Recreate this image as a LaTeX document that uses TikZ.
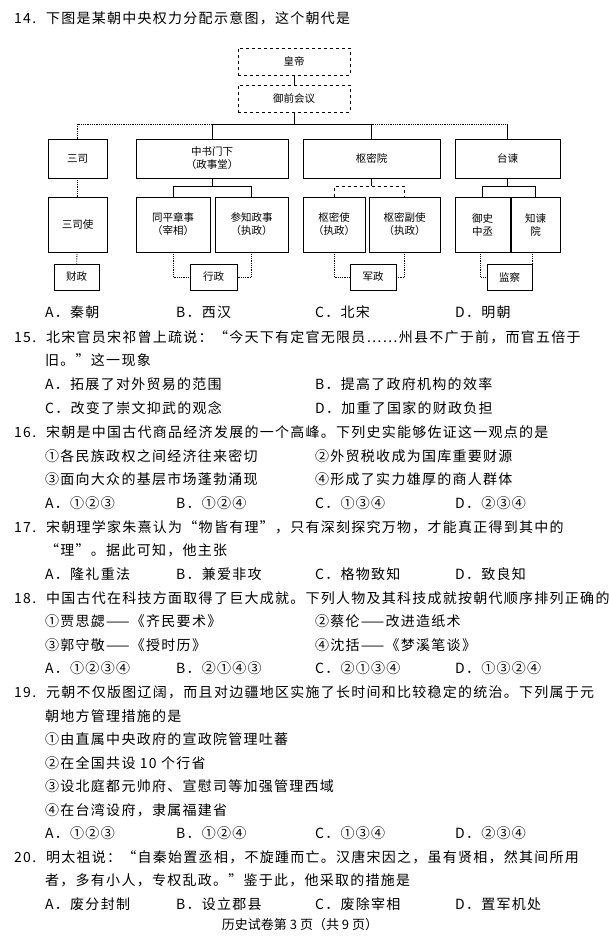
\documentclass[tikz,border=0pt]{standalone}
\usepackage{fontspec}
\setmainfont{Noto Sans CJK SC}
\newfontfamily\bodyf[LetterSpace=9]{Noto Sans CJK SC}
\begin{document}
\begin{tikzpicture}[x=1pt,y=-1pt,
  bx/.style={draw,thick,minimum height=#1,inner sep=0pt,font=\fontsize{10.5}{13}\selectfont,align=center},
  bx/.default=39pt,
  dl/.style={thick,densely dotted},
  sl/.style={thick},
  tx/.style={anchor=west,inner sep=0pt,font=\bodyf\fontsize{14}{15}\selectfont}]
\useasboundingbox (0,0) rectangle (609,937);
% boxes
\node[bx=27pt,dashed,minimum width=112pt] (hd) at (294,61.5) {皇帝};
\node[bx=27pt,dashed,minimum width=112pt] (yq) at (294,98.5) {御前会议};
\node[bx,minimum width=59pt] (ss) at (77.5,158.5) {三司};
\node[bx,minimum width=152pt] (zs) at (212,158.5) {中书门下\\（政事堂）};
\node[bx,minimum width=137pt] (sm) at (371.5,158.5) {枢密院};
\node[bx,minimum width=105pt] (tj) at (507.5,158.5) {台谏};
\node[bx=55pt,minimum width=59pt] (ssy) at (77.5,224.5) {三司使};
\node[bx=55pt,minimum width=74pt] (tp) at (173,224.5) {同平章事\\（宰相）};
\node[bx=55pt,minimum width=73pt] (cz) at (251.5,224.5) {参知政事\\（执政）};
\node[bx=55pt,minimum width=62pt] (smsh) at (334,224.5) {枢密使\\（执政）};
\node[bx=55pt,minimum width=71pt] (smf) at (404.5,224.5) {枢密副使\\（执政）};
\node[bx=55pt,minimum width=55pt] (ys) at (482.5,224.5) {御史\\中丞};
\node[bx=55pt,minimum width=49pt] (zj) at (535.5,224.5) {知谏\\院};
\node[bx=26pt,minimum width=45pt] (cz2) at (76.5,277) {财政};
\node[bx=26pt,minimum width=47pt] (xz) at (213.5,277) {行政};
\node[bx=26pt,minimum width=46pt] (jz) at (373,277) {军政};
\node[bx=26pt,minimum width=45pt] (jc) at (509.5,277) {监察};
% connectors
\coordinate (h) at (294,124);
\draw[sl] (hd) -- (yq);
\draw[sl] (yq) -- (h);
\draw[sl] (zs.north|-h) -- (sm.north|-h);
\draw[dl] (h-|ss.north) -- (zs.north|-h);
\draw[dl] (sm.north|-h) -- (tj.north|-h);
\draw[dl] (h-|ss.north) -- (ss.north);
\draw[sl] (zs.north|-h) -- (zs.north);
\draw[sl] (sm.north|-h) -- (sm.north);
\draw[sl] (tj.north|-h) -- (tj.north);
\draw[dl] (ss) -- (ssy);
\draw[dl] (ssy) -- (cz2);
\draw[sl] (zs.south) -- ++(0,8) coordinate (a);
\draw[sl] (tp.north) |- (a) -| (cz.north);
\draw[sl] (sm.south) -- ++(0,8) coordinate (b);
\draw[sl,dashed] (smsh.north) |- (b) -| (smf.north);
\draw[sl] (tj.south) -- ++(0,8) coordinate (c);
\draw[sl] (ys.north) |- (c) -| (zj.north);
\draw[dl] (tp.south) |- (xz.west);
\draw[dl] (cz.south) |- (xz.east);
\draw[dl] (smsh.south) |- (jz.west);
\draw[dl] (smf.south) |- (jz.east);
\draw[dl] ([xshift=-2pt]ys.south) |- (jc.west);
\draw[dl] ([xshift=-3pt]zj.south) |- (jc.east);
% text
\node[tx] at (14,18) {14.\hspace{10pt}下图是某朝中央权力分配示意图，这个朝代是};
\node[tx] at (45,312) {A．秦朝}; \node[tx] at (176,312) {B．西汉}; \node[tx] at (315,312) {C．北宋}; \node[tx] at (455,312) {D．明朝};
\node[tx] at (14,337) {15.\hspace{10pt}北宋官员宋祁曾上疏说：“今天下有定官无限员……州县不广于前，而官五倍于};
\node[tx] at (45,360) {旧。”这一现象};
\node[tx] at (45,384) {A．拓展了对外贸易的范围}; \node[tx] at (315,384) {B．提高了政府机构的效率};
\node[tx] at (45,408) {C．改变了崇文抑武的观念}; \node[tx] at (315,408) {D．加重了国家的财政负担};
\node[tx] at (14,432) {16.\hspace{10pt}宋朝是中国古代商品经济发展的一个高峰。下列史实能够佐证这一观点的是};
\node[tx] at (45,456) {①各民族政权之间经济往来密切}; \node[tx] at (315,456) {②外贸税收成为国库重要财源};
\node[tx] at (45,479) {③面向大众的基层市场蓬勃涌现}; \node[tx] at (315,479) {④形成了实力雄厚的商人群体};
\node[tx] at (45,503) {A．①②③}; \node[tx] at (176,503) {B．①②④}; \node[tx] at (315,503) {C．①③④}; \node[tx] at (455,503) {D．②③④};
\node[tx] at (14,527) {17.\hspace{10pt}宋朝理学家朱熹认为“物皆有理”，只有深刻探究万物，才能真正得到其中的};
\node[tx] at (45,550) {“理”。据此可知，他主张};
\node[tx] at (45,574) {A．隆礼重法}; \node[tx] at (176,574) {B．兼爱非攻}; \node[tx] at (315,574) {C．格物致知}; \node[tx] at (455,574) {D．致良知};
\node[tx] at (14,598) {18.\hspace{10pt}中国古代在科技方面取得了巨大成就。下列人物及其科技成就按朝代顺序排列正确的是};
\node[tx] at (45,621) {①贾思勰——《齐民要术》}; \node[tx] at (315,621) {②蔡伦——改进造纸术};
\node[tx] at (45,645) {③郭守敬——《授时历》}; \node[tx] at (315,645) {④沈括——《梦溪笔谈》};
\node[tx] at (45,668) {A．①②③④}; \node[tx] at (176,668) {B．②①④③}; \node[tx] at (315,668) {C．②①③④}; \node[tx] at (455,668) {D．①③②④};
\node[tx] at (14,692) {19.\hspace{10pt}元朝不仅版图辽阔，而且对边疆地区实施了长时间和比较稳定的统治。下列属于元};
\node[tx] at (45,716) {朝地方管理措施的是};
\node[tx] at (45,739) {①由直属中央政府的宣政院管理吐蕃};
\node[tx] at (45,763) {②在全国共设 10 个行省};
\node[tx] at (45,786) {③设北庭都元帅府、宣慰司等加强管理西域};
\node[tx] at (45,810) {④在台湾设府，隶属福建省};
\node[tx] at (45,833) {A．①②③}; \node[tx] at (176,833) {B．①②④}; \node[tx] at (315,833) {C．①③④}; \node[tx] at (455,833) {D．②③④};
\node[tx] at (14,857) {20.\hspace{10pt}明太祖说：“自秦始置丞相，不旋踵而亡。汉唐宋因之，虽有贤相，然其间所用};
\node[tx] at (45,880) {者，多有小人，专权乱政。”鉴于此，他采取的措施是};
\node[tx] at (45,904) {A．废分封制}; \node[tx] at (176,904) {B．设立郡县}; \node[tx] at (315,904) {C．废除宰相}; \node[tx] at (455,904) {D．置军机处};
\node[anchor=center,inner sep=0pt,font=\fontsize{13}{14}\selectfont] at (300,925) {历史试卷第 3 页（共 9 页）};
\end{tikzpicture}
\end{document}
